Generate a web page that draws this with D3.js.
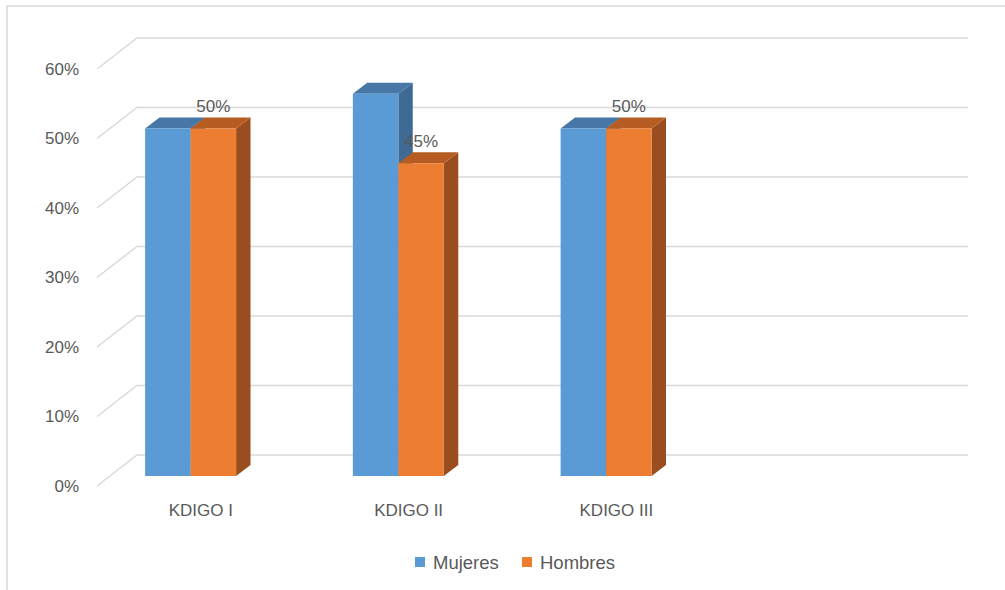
<!DOCTYPE html>
<html>
<head>
<meta charset="utf-8">
<script src="https://cdn.jsdelivr.net/npm/d3@7"></script>
<style>
  html, body { margin: 0; padding: 0; background: #fff; }
  svg { display: block; }
  text { font-family: "Liberation Sans", Arial, sans-serif; fill: #595959; }
</style>
</head>
<body>
<svg id="chart" width="1005" height="590"></svg>
<script>
// ---- data ----
const categories = ["KDIGO I", "KDIGO II", "KDIGO III", ""];
const seriesNames = ["Mujeres", "Hombres"];
const mujeres = [0.50, 0.55, 0.50, null];
const hombres = [0.50, 0.45, 0.50, null];
const yTicks = [0, 0.1, 0.2, 0.3, 0.4, 0.5, 0.6];
const hombresLabels = ["50%", "45%", "50%", null];

// ---- styles ----
const frontCol = ["#5B9BD5", "#ED7D31"];
const topCol   = ["#4677A6", "#B65C22"];
const sideCol  = ["#3F6A93", "#9A4E1F"];
const gridCol  = "#D9D9D9";

const svg = d3.select("#chart");

// chart border
svg.append("rect").attr("x", 7).attr("y", 6).attr("width", 1020).attr("height", 620)
  .attr("fill", "none").attr("stroke", gridCol).attr("stroke-width", 1.5);

// front-plane scales (z = 0), depth vector to z = 1
const y = d3.scaleLinear().domain([0, 0.6]).range([486, 69]);
const x = d3.scaleBand().domain(categories).range([97, 928]).paddingInner(0).paddingOuter(0);
const DX = 40, DY = -31;
const P = (sx, v, z) => [sx + DX * z, y(v) + DY * z];

// gridlines: side wall diagonal + back wall
const grid = svg.append("g");
yTicks.forEach(t => {
  const a = P(x.range()[0], t, 0), b = P(x.range()[0], t, 1), c = P(x.range()[1], t, 1);
  grid.append("path").attr("d", `M${a}L${b}L${c}`)
    .attr("fill", "none").attr("stroke", gridCol).attr("stroke-width", 1.5);
});

// y axis labels
svg.append("g").selectAll("text").data(yTicks).join("text")
  .attr("x", 79).attr("y", d => y(d)).attr("text-anchor", "end")
  .attr("dominant-baseline", "central").style("font-size", "17px")
  .text(d => d3.format(".0%")(d));

// category labels
svg.append("g").selectAll("text").data(categories).join("text")
  .attr("x", d => x(d) + x.bandwidth() / 2).attr("y", 510)
  .attr("text-anchor", "middle").attr("dominant-baseline", "central")
  .style("font-size", "17px").text(d => d);

// bars
const z0 = 0.32, z1 = 0.68;
const bw = x.bandwidth();
const groupOff = 0.17 * bw, barW = 0.219 * bw;
const bars = svg.append("g");
const allSeries = [mujeres, hombres];
categories.forEach((c, i) => {
  allSeries.forEach((vals, s) => {
    const v = vals[i];
    if (v == null) return;
    const xl = x(c) + groupOff + s * barW, xr = xl + barW;
    const fl0 = P(xl, 0, z0), fr0 = P(xr, 0, z0), fl1 = P(xl, v, z0), fr1 = P(xr, v, z0);
    const bl1 = P(xl, v, z1), br1 = P(xr, v, z1), br0 = P(xr, 0, z1);
    // side
    bars.append("path").attr("d", `M${fr0}L${br0}L${br1}L${fr1}Z`).attr("fill", sideCol[s]);
    // top
    bars.append("path").attr("d", `M${fl1}L${bl1}L${br1}L${fr1}Z`).attr("fill", topCol[s]);
    // front
    bars.append("path").attr("d", `M${fl0}L${fr0}L${fr1}L${fl1}Z`).attr("fill", frontCol[s]);
  });
});

// data labels (Hombres)
categories.forEach((c, i) => {
  const lbl = hombresLabels[i];
  if (lbl == null) return;
  const xl = x(c) + groupOff + barW, xr = xl + barW;
  const cx = (xl + xr) / 2 + DX * z0;
  const ty = P(xl, hombres[i], z1)[1] - 11;
  svg.append("text").attr("x", cx).attr("y", ty).attr("text-anchor", "middle")
    .attr("dominant-baseline", "central").style("font-size", "17px").text(lbl);
});

// legend
const legend = svg.append("g");
const legendItems = [
  { name: seriesNames[0], x: 415, col: frontCol[0] },
  { name: seriesNames[1], x: 522, col: frontCol[1] }
];
legendItems.forEach(d => {
  legend.append("rect").attr("x", d.x).attr("y", 557).attr("width", 10).attr("height", 10).attr("fill", d.col);
  legend.append("text").attr("x", d.x + 18).attr("y", 562).attr("dominant-baseline", "central")
    .style("font-size", "18.5px").text(d.name);
});
</script>
</body>
</html>
